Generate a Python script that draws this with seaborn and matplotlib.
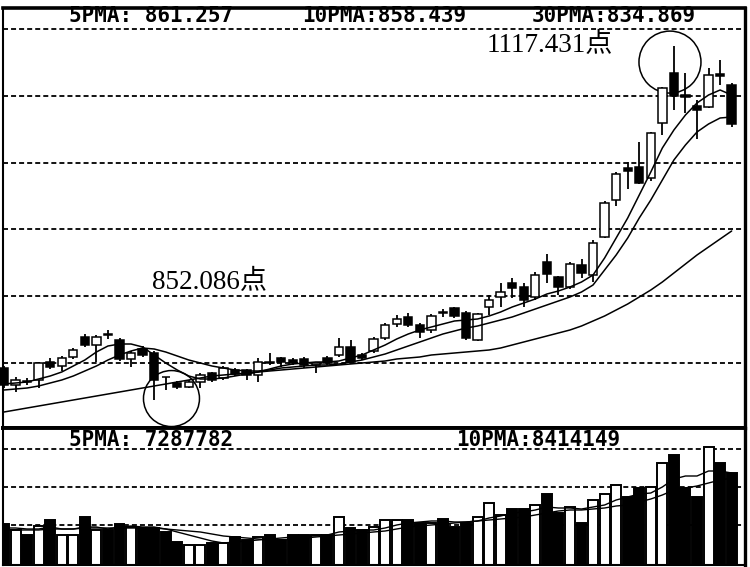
import matplotlib
matplotlib.use("Agg")
import matplotlib.pyplot as plt
import seaborn as sns
import numpy as np
import pandas as pd
from matplotlib.patches import Ellipse

# ---------------- data ----------------
open_ = [876, 863.25, 866.25, 867, 880.5, 877.5, 884.25, 899.25, 893.25, 901.5,
         897, 882.75, 890.25, 887.25, 869.25, 864.75, 861.75, 865.5, 872.25, 868.5,
         874.5, 874.5, 870.75, 880.5, 883.5, 882, 882.75, 878.25, 883.5, 885.75,
         891.75, 885.75, 888.75, 898.5, 909, 914.25, 908.25, 904.5, 918, 921,
         917.25, 897, 921.75, 929.25, 939.75, 936.75, 929.25, 955.5, 944.25, 936.75,
         953.25, 945.75, 974.25, 1002, 1026, 1026.75, 1018.5, 1059.75, 1097.25, 1080.75,
         1072.5, 1071.75, 1096.5, 1088.25]
high = [877.5, 869.25, 868.5, 880.5, 883.5, 885, 891, 901.5, 900.75, 904.5,
        898.5, 888.75, 892.5, 888.75, 869.6, 866.25, 867, 872.25, 873, 877.5,
        876, 875.25, 883.5, 887.25, 884.25, 883.5, 884.25, 880.1, 885, 898.5,
        897, 887.25, 899.25, 909.75, 915.75, 917.25, 909.75, 916.5, 920.25, 921.75,
        918.75, 917.25, 930.75, 939.75, 943.5, 939.75, 948, 961.5, 945, 955.5,
        957.75, 972, 1001.25, 1023, 1030.5, 1045.5, 1053, 1086.75, 1117.431, 1097.25,
        1077, 1101, 1107, 1089.75]
low = [861, 858, 863.25, 861, 875.25, 873.75, 882.75, 891.75, 880.5, 897.75,
       881.25, 876.75, 884.25, 852.086, 859.5, 860.25, 861, 861, 865.5, 867,
       870, 867, 865.5, 878.25, 876.75, 878.25, 876, 872.25, 878.25, 884.25,
       879.75, 882, 887.25, 897, 906.75, 906.75, 898.5, 902.25, 914.25, 913.5,
       897, 896.25, 915.75, 921.75, 928.5, 921.75, 927, 939.75, 930.75, 935.25,
       943.5, 940.5, 973.5, 997.5, 1010.25, 1014, 1016.25, 1050.75, 1069.5, 1067.25,
       1047.75, 1071, 1088.25, 1056.75]
close = [863.25, 867, 865.5, 879.75, 876.75, 883.5, 889.5, 893.25, 899.25, 900.75,
         882.75, 887.25, 885.75, 867, 868.9, 861.75, 865.5, 870.75, 867, 876,
         871.5, 870.75, 880.5, 879.75, 880.5, 879.75, 878.25, 879.75, 879.75, 891.75,
         880.5, 883.5, 897.75, 908.25, 912.75, 908.25, 903, 915, 917.25, 915,
         898.5, 916.5, 927, 933, 936, 927, 945.75, 946.5, 936.75, 954,
         947.25, 969.75, 999.75, 1021.5, 1023.75, 1014.75, 1052.25, 1086, 1080, 1079.25,
         1069.5, 1095.75, 1095, 1059]

ma5 = [864, 864.75, 865.5, 867.75, 870, 873, 877.5, 882, 888, 892.5,
       894, 894, 891.75, 885.75, 879.75, 874.5, 870, 867.75, 867.75, 868.5,
       870, 871.5, 873, 875.25, 877.5, 879, 879.75, 880.5, 880.5, 881.25,
       883.5, 885.75, 889.5, 893.25, 897.75, 901.5, 904.5, 906.75, 909, 911.25,
       912, 912.75, 915, 918, 921.75, 924.75, 927.75, 931.5, 933.75, 936.75,
       940.5, 945.75, 958.5, 973.5, 988.5, 1005.75, 1023, 1041, 1054.5, 1065.75,
       1074.75, 1080.75, 1084.5, 1080.75]
ma10 = [859.5, 860.25, 861, 862.5, 864.75, 867, 870, 873.75, 877.5, 882,
        885.75, 888.75, 891, 890.25, 888, 885, 882, 879.75, 877.5, 876,
        874.5, 873.75, 873.75, 874.5, 876, 876.75, 877.5, 878.25, 878.25, 879,
        880.5, 882, 884.25, 886.5, 889.5, 892.5, 895.5, 898.5, 901.5, 903.75,
        906, 907.5, 909.75, 912, 914.25, 917.25, 920.25, 923.25, 926.25, 929.25,
        933, 938.25, 949.5, 960.75, 973.5, 988.5, 1002, 1017, 1032, 1043.25,
        1053, 1059, 1063.5, 1064.25]
ma30 = [843, 844.5, 846, 847.5, 849, 850.5, 852, 853.5, 855, 856.5,
        858, 859.5, 861, 862.5, 864, 865.5, 867, 868.5, 870, 870.75,
        871.5, 872.25, 873, 873.75, 874.5, 875.25, 876, 876.75, 877.5, 878.25,
        879, 879.75, 880.5, 881.25, 882.75, 883.5, 884.25, 885.75, 886.5, 887.25,
        888, 888.75, 889.5, 891, 893.25, 895.5, 897.75, 900, 902.25, 904.5,
        907.5, 911.25, 915, 919.5, 924, 929.25, 934.5, 940.5, 947.25, 954,
        960.75, 966.75, 972.75, 978.75]

volume = [8.2, 7.0, 6.0, 7.8, 9.0, 6.0, 6.0, 9.6, 7.0, 7.0,
          8.2, 7.6, 7.4, 7.4, 6.6, 4.6, 4.0, 4.0, 4.4, 4.4,
          5.6, 5.0, 5.6, 6.0, 5.0, 6.0, 6.0, 6.0, 6.0, 9.6,
          7.4, 7.0, 7.6, 9.0, 9.0, 9.0, 8.4, 8.4, 9.2, 7.6,
          8.4, 9.6, 12.4, 10.0, 11.2, 11.2, 12.0, 14.2, 10.4, 11.6,
          8.4, 13.0, 14.2, 16.0, 13.6, 15.4, 15.6, 20.4, 22.0, 15.4,
          13.6, 23.6, 20.4, 18.4]
vol_ma5 = [7.4, 7.4, 7.2, 7.2, 7.6, 7.2, 7.2, 7.6, 7.6, 7.2,
           7.6, 7.8, 7.6, 7.6, 7.2, 6.6, 6.0, 5.4, 4.8, 4.4,
           4.6, 4.8, 5.0, 5.2, 5.4, 5.6, 5.8, 5.8, 6.0, 6.6,
           6.8, 7.0, 7.0, 7.4, 8.0, 8.4, 8.6, 8.8, 8.8, 8.6,
           8.6, 8.8, 9.4, 9.8, 10.4, 10.6, 11.0, 11.6, 11.4, 11.4,
           11.2, 11.6, 12.0, 13.0, 13.6, 14.2, 14.4, 15.6, 17.2, 17.8,
           17.8, 18.8, 18.8, 18.4]
vol_ma10 = [7.0, 7.0, 7.0, 7.0, 7.2, 7.2, 7.2, 7.4, 7.4, 7.4,
            7.4, 7.4, 7.4, 7.4, 7.2, 7.0, 6.8, 6.6, 6.2, 5.8,
            5.6, 5.4, 5.2, 5.0, 5.0, 5.2, 5.4, 5.6, 5.8, 6.0,
            6.2, 6.4, 6.6, 6.8, 7.2, 7.6, 7.8, 8.0, 8.2, 8.4,
            8.6, 8.8, 9.0, 9.2, 9.4, 9.6, 10.0, 10.4, 10.8, 11.0,
            11.0, 11.2, 11.4, 11.8, 12.0, 12.6, 13.2, 14.0, 15.0, 15.4,
            15.8, 16.4, 17.0, 17.4]

price_header = ["5PMA: 861.257", "10PMA:858.439", "30PMA:834.869"]
vol_header = ["5PMA: 7287782", "10PMA:8414149"]
high_label = "1117.431点"
low_label = "852.086点"
price_grid = [880, 930, 980, 1030, 1080, 1130]
vol_grid = [8.0, 15.6, 23.2]

# ---------------- styling / layout ----------------
sns.set_theme(style="white")
plt.rcParams["font.family"] = ["DejaVu Sans", "Noto Sans CJK SC"]
plt.rcParams["lines.scale_dashes"] = False

W, H = 750, 567
L_PX, R_PX = 3, 745
TOP_PX, MID_PX, BOT_PX = 8, 428, 565
X0_PX, DX_PX = 4.0, 11.55

fig = plt.figure(figsize=(7.5, 5.67), dpi=100)
fig.patch.set_facecolor("white")
axp = fig.add_axes([L_PX / W, 1 - MID_PX / H, (R_PX - L_PX) / W, (MID_PX - TOP_PX) / H])
axv = fig.add_axes([L_PX / W, 1 - BOT_PX / H, (R_PX - L_PX) / W, (BOT_PX - MID_PX) / H])

df = pd.DataFrame(dict(i=np.arange(len(close)), open=open_, high=high, low=low,
                       close=close, ma5=ma5, ma10=ma10, ma30=ma30,
                       vol=volume, vma5=vol_ma5, vma10=vol_ma10))
up = df["close"] >= df["open"]
face = np.where(up, "white", "black")

xlim = ((L_PX - X0_PX) / DX_PX, (R_PX - X0_PX) / DX_PX)
p_ylim = (831, 1146)
v_ylim = (0, 27.4)

dash = (0, (3.6, 2.2))
for lv in price_grid:
    axp.axhline(lv, color="black", lw=1.3, ls=dash, zorder=1)
for lv in vol_grid:
    axv.axhline(lv, color="black", lw=1.3, ls=dash, zorder=1)

# candles
axp.vlines(df["i"], df["low"], df["high"], color="black", lw=1.3, zorder=2, clip_on=False)
body_bot = np.minimum(df["open"], df["close"])
body_h = np.maximum((df["close"] - df["open"]).abs(), 0.6)
axp.bar(df["i"], body_h, bottom=body_bot, width=0.72, color=face,
        edgecolor="black", linewidth=1.1, zorder=3, clip_on=False)

for col in ["ma5", "ma10", "ma30"]:
    sns.lineplot(data=df, x="i", y=col, ax=axp, color="black", linewidth=1.1,
                 legend=False, zorder=4)

# volume
axv.bar(df["i"], df["vol"], width=0.86, color=face, edgecolor="black",
        linewidth=1.4, zorder=2)
for col in ["vma5", "vma10"]:
    sns.lineplot(data=df, x="i", y=col, ax=axv, color="black", linewidth=1.0,
                 legend=False, zorder=3)

for ax, yl in [(axp, p_ylim), (axv, v_ylim)]:
    ax.set_xlim(*xlim)
    ax.set_ylim(*yl)
    ax.set_xticks([])
    ax.set_yticks([])
    ax.set_xlabel("")
    ax.set_ylabel("")
    ax.set_facecolor("white")
    for s in ax.spines.values():
        s.set_color("black")
        s.set_visible(True)

axp.spines["top"].set_linewidth(2.6)
axp.spines["bottom"].set_linewidth(2.8)
axp.spines["right"].set_linewidth(2.4)
axp.spines["left"].set_linewidth(1.5)
axv.spines["top"].set_linewidth(2.8)
axv.spines["right"].set_linewidth(2.4)
axv.spines["left"].set_linewidth(1.5)
axv.spines["bottom"].set_linewidth(1.5)

# annotation circles (pixel radius converted to data units)
px_per_x = (R_PX - L_PX) / (xlim[1] - xlim[0])
px_per_y = (MID_PX - TOP_PX) / (p_ylim[1] - p_ylim[0])
i_hi = int(np.argmax(high))
i_lo = int(np.argmin(low))
for ci, cy, r in [(i_hi - 0.34, high[i_hi] - 12, 31), (i_lo + 1.5, low[i_lo] + 1.0, 28)]:
    axp.add_patch(Ellipse((ci, cy), 2 * r / px_per_x, 2 * r / px_per_y, fill=False,
                          edgecolor="black", lw=1.1, zorder=1.5))

def fx(px):
    return (px - L_PX) / (R_PX - L_PX)

mono = dict(family="DejaVu Sans Mono", fontweight="bold", fontsize=15, color="black")
for txt, cx in zip(price_header, [151, 384, 614]):
    axp.text(fx(cx), (MID_PX - 16) / (MID_PX - TOP_PX), txt, transform=axp.transAxes,
             ha="center", va="center", **mono)
for txt, cx in zip(vol_header, [151, 538]):
    axv.text(fx(cx), (BOT_PX - 440) / (BOT_PX - MID_PX), txt, transform=axv.transAxes,
             ha="center", va="center", **mono)

serif = dict(family=["Liberation Serif", "Noto Sans CJK SC"], fontsize=19.5, color="black")
axp.text(fx(487), (MID_PX - 45) / (MID_PX - TOP_PX), high_label, transform=axp.transAxes,
         ha="left", va="center", **serif)
axp.text(fx(152), (MID_PX - 282) / (MID_PX - TOP_PX), low_label, transform=axp.transAxes,
         ha="left", va="center", **serif)

fig.savefig("out.png", dpi=100, facecolor="white")
